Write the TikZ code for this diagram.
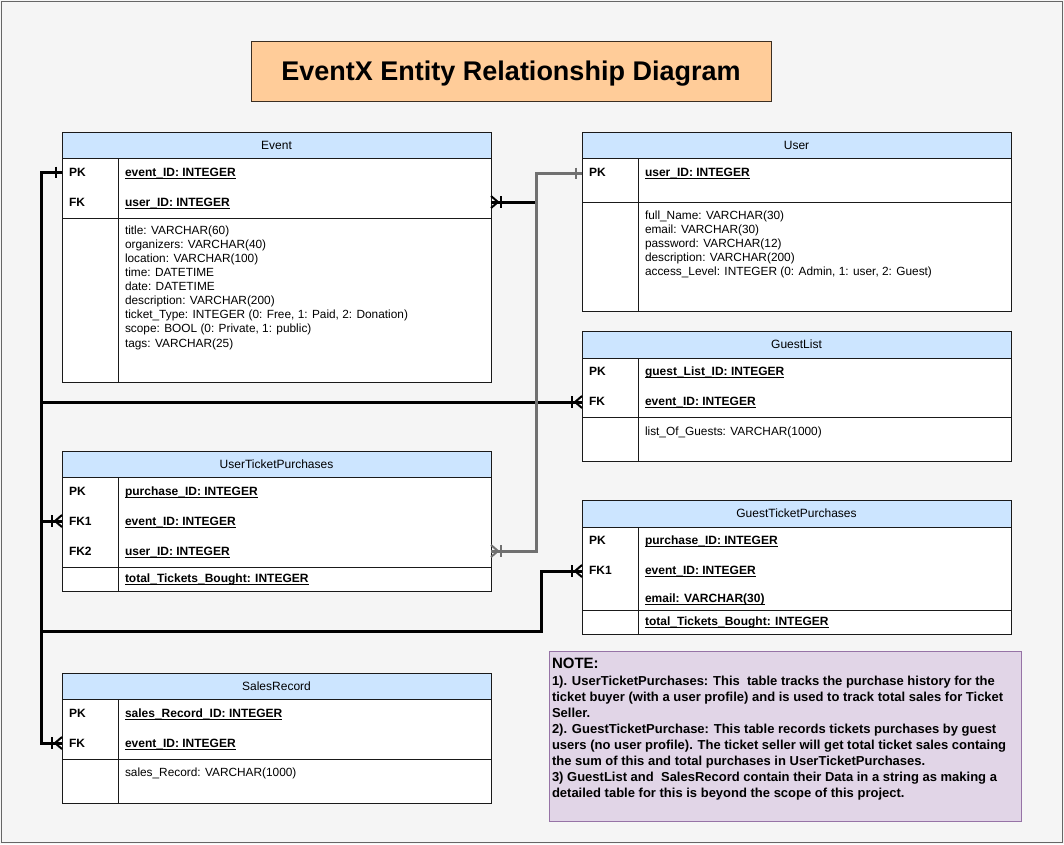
\documentclass[tikz,border=0pt]{standalone}
\usepackage{fontspec}
\setmainfont{Liberation Sans}
\usetikzlibrary{calc}
\definecolor{bgc}{HTML}{F5F5F5}
\definecolor{hdrc}{HTML}{CCE5FF}
\definecolor{ttlc}{HTML}{FFCC99}
\definecolor{notef}{HTML}{E1D5E7}
\definecolor{noted}{HTML}{9673A6}
\definecolor{grayln}{HTML}{707070}
\definecolor{bord}{HTML}{1A1A1A}
\definecolor{frame}{HTML}{666666}

\tikzset{
  txt/.style={inner sep=0pt, outer sep=0pt, anchor=west, text height=8.5pt, text depth=0pt, font=\fontsize{11.85}{14}\selectfont},
  keytxt/.style={txt, font=\bfseries\fontsize{12}{14}\selectfont},
  hdrtxt/.style={inner sep=0pt, text height=8.6pt, text depth=0pt, font=\fontsize{12}{14}\selectfont},
  notetxt/.style={inner sep=0pt, outer sep=0pt, anchor=west, text height=9.4pt, text depth=0pt, font=\bfseries\fontsize{13}{16}\selectfont},
  tline/.style={draw=bord, line width=0.9pt},
  rel/.style={line width=3pt, black},
  relg/.style={line width=3pt, grayln},
  crow/.pic={\draw[line width=2.4pt] (-10,-6) -- (-10,6);
             \draw[line width=2pt, line join=miter] (0,-6) -- (-7,0) -- (0,6);},
  onebar/.pic={\draw[line width=2.4pt] (-6,-5.5) -- (-6,5.5);}
}

% name, x1, y1, x2, y2, header bottom, vertical divider x, horizontal divider y, title
\newcommand\erTable[9]{%
  \fill[white] (#2,#3) rectangle (#4,#5);
  \fill[hdrc] (#2,#3) rectangle (#4,#6);
  \draw[tline] (#2,#6) -- (#4,#6);
  \draw[tline] (#7,#6) -- (#7,#5);
  \draw[tline] (#2,#8) -- (#4,#8);
  \node[tline, anchor=north west, minimum width={#4-#2}, minimum height={#5-#3}, inner sep=0pt, outer sep=0pt] (#1) at (#2,#3) {};
  \node[hdrtxt] (#1-t) at ({(#2+#4)/2},{(#3+#6)/2}) {#9};
}
\newcommand\erKey[4]{\node[keytxt] (#1) at (#2,#3) {#4};}
\newcommand\erFld[4]{\node[keytxt] (#1) at (#2,#3) {#4};
  \draw[line width=0.9pt] ([yshift=-1.7pt]#1.south west) -- ([yshift=-1.7pt]#1.south east);}
\newcommand\erTxt[4]{\node[txt] (#1) at (#2,#3) {#4};}

\begin{document}
\begin{tikzpicture}[x=1pt,y=-1pt]
\useasboundingbox (0,0) rectangle (1064,844);
\fill[bgc] (0,0) rectangle (1064,844);
\draw[frame, line width=1pt] (1,1.5) rectangle (1062.5,842.5);

% title
\node[draw=bord!80!brown, line width=0.9pt, fill=ttlc, minimum width=520, minimum height=60,
      inner sep=0pt, text height=19.3pt, text depth=0pt, font=\bfseries\fontsize{27}{30}\selectfont]
      (title) at (511,71) {EventX Entity Relationship Diagram};

% ---------- Event ----------
\erTable{event}{62}{132}{491}{382}{158}{118}{218}{Event}
\erKey{ev-pk}{69}{172}{PK}
\erFld{ev-f1}{125}{172}{event\_ID: INTEGER}
\erKey{ev-fk}{69}{202}{FK}
\erFld{ev-f2}{125}{202}{user\_ID: INTEGER}
\foreach \t [count=\i from 0] in {{title: VARCHAR(60)},{organizers: VARCHAR(40)},{location: VARCHAR(100)},
   {time: DATETIME},{date: DATETIME},{description: VARCHAR(200)},
   {ticket\_Type: INTEGER (0: Free, 1: Paid, 2: Donation)},{scope: BOOL (0: Private, 1: public)},{tags: VARCHAR(25)}}
  {\node[txt] (ev-b\i) at (125,{230+14.1*\i}) {\t};}

% ---------- User ----------
\erTable{user}{582}{132}{1011}{311}{158}{638}{202}{User}
\erKey{us-pk}{589}{172}{PK}
\erFld{us-f1}{645}{172}{user\_ID: INTEGER}
\foreach \t [count=\i from 0] in {{full\_Name: VARCHAR(30)},{email: VARCHAR(30)},{password: VARCHAR(12)},
   {description: VARCHAR(200)},{access\_Level: INTEGER (0: Admin, 1: user, 2: Guest)}}
  {\node[txt] (us-b\i) at (645,{215+14*\i}) {\t};}

% ---------- GuestList ----------
\erTable{guest}{582}{331}{1011}{461}{358}{638}{417}{GuestList}
\erKey{gl-pk}{589}{371}{PK}
\erFld{gl-f1}{645}{371}{guest\_List\_ID: INTEGER}
\erKey{gl-fk}{589}{401}{FK}
\erFld{gl-f2}{645}{401}{event\_ID: INTEGER}
\erTxt{gl-b0}{645}{431}{list\_Of\_Guests: VARCHAR(1000)}

% ---------- UserTicketPurchases ----------
\erTable{utp}{62}{451}{491}{591}{477}{118}{567}{UserTicketPurchases}
\erKey{ut-pk}{69}{491}{PK}
\erFld{ut-f1}{125}{491}{purchase\_ID: INTEGER}
\erKey{ut-fk1}{69}{521}{FK1}
\erFld{ut-f2}{125}{521}{event\_ID: INTEGER}
\erKey{ut-fk2}{69}{551}{FK2}
\erFld{ut-f3}{125}{551}{user\_ID: INTEGER}
\erFld{ut-f4}{125}{578}{total\_Tickets\_Bought: INTEGER}

% ---------- GuestTicketPurchases ----------
\erTable{gtp}{582}{500}{1011}{634}{527}{638}{610}{GuestTicketPurchases}
\erKey{gt-pk}{589}{540}{PK}
\erFld{gt-f1}{645}{540}{purchase\_ID: INTEGER}
\erKey{gt-fk1}{589}{570}{FK1}
\erFld{gt-f2}{645}{570}{event\_ID: INTEGER}
\erFld{gt-f3}{645}{598}{email: VARCHAR(30)}
\erFld{gt-f4}{645}{621}{total\_Tickets\_Bought: INTEGER}

% ---------- SalesRecord ----------
\erTable{sales}{62}{673}{491}{803}{699}{118}{759}{SalesRecord}
\erKey{sr-pk}{69}{713}{PK}
\erFld{sr-f1}{125}{713}{sales\_Record\_ID: INTEGER}
\erKey{sr-fk}{69}{743}{FK}
\erFld{sr-f2}{125}{743}{event\_ID: INTEGER}
\erTxt{sr-b0}{125}{772}{sales\_Record: VARCHAR(1000)}

% ---------- Note ----------
\node[draw=noted, line width=0.9pt, fill=notef, anchor=north west, minimum width=472, minimum height=170,
      inner sep=0pt] (note) at (549,651) {};
\node[notetxt, text height=10.7pt, font=\bfseries\fontsize{15}{17}\selectfont] (note-h) at (552,663) {NOTE:};
\foreach \t [count=\i from 0] in {{1). UserTicketPurchases: This\ \ table tracks the purchase history for the},
  {ticket buyer (with a user profile) and is used to track total sales for Ticket},
  {Seller.},
  {2). GuestTicketPurchase: This table records tickets purchases by guest},
  {users (no user profile). The ticket seller will get total ticket sales containg},
  {the sum of this and total purchases in UserTicketPurchases.},
  {3) GuestList and\ \ SalesRecord contain their Data in a string as making a},
  {detailed table for this is beyond the scope of this project.}}
  {\node[notetxt] (note-l\i) at (552,{681+16*\i}) {\t};}

% ---------- connector anchors ----------
\coordinate (ePK) at (62,172);
\coordinate (eFK) at (491,202);
\coordinate (uPK) at (582,173);
\coordinate (gFK) at (582,402);
\coordinate (utFK1) at (62,521);
\coordinate (utFK2) at (491,551);
\coordinate (gtFK1) at (582,571);
\coordinate (srFK) at (62,743);
\coordinate (trunk) at (41,0);
\coordinate (ujog) at (536,0);
\coordinate (gjog) at (541,631);

% Event PK -> foreign keys
\draw[rel] (ePK) -- (ePK -| trunk) |- (gFK);
\draw[rel] (ePK) -- (ePK -| trunk) |- (utFK1);
\draw[rel] (ePK) -- (ePK -| trunk) |- (gjog) |- (gtFK1);
\draw[rel] (ePK) -- (ePK -| trunk) |- (srFK);
\pic[black] at (ePK) {onebar};
\pic[black] at (gFK) {crow};
\pic[black] at (utFK1) {crow};
\pic[black] at (gtFK1) {crow};
\pic[black] at (srFK) {crow};

% Event FK -> User PK
\draw[rel] (eFK) -- (eFK -| ujog) |- (uPK);
\pic[black, xscale=-1] at (eFK) {crow};

% User PK -> UserTicketPurchases FK2
\draw[relg] (uPK) -- (uPK -| ujog) |- (utFK2);
\pic[grayln] at (uPK) {onebar};
\pic[grayln, xscale=-1] at (utFK2) {crow};
\end{tikzpicture}
\end{document}
